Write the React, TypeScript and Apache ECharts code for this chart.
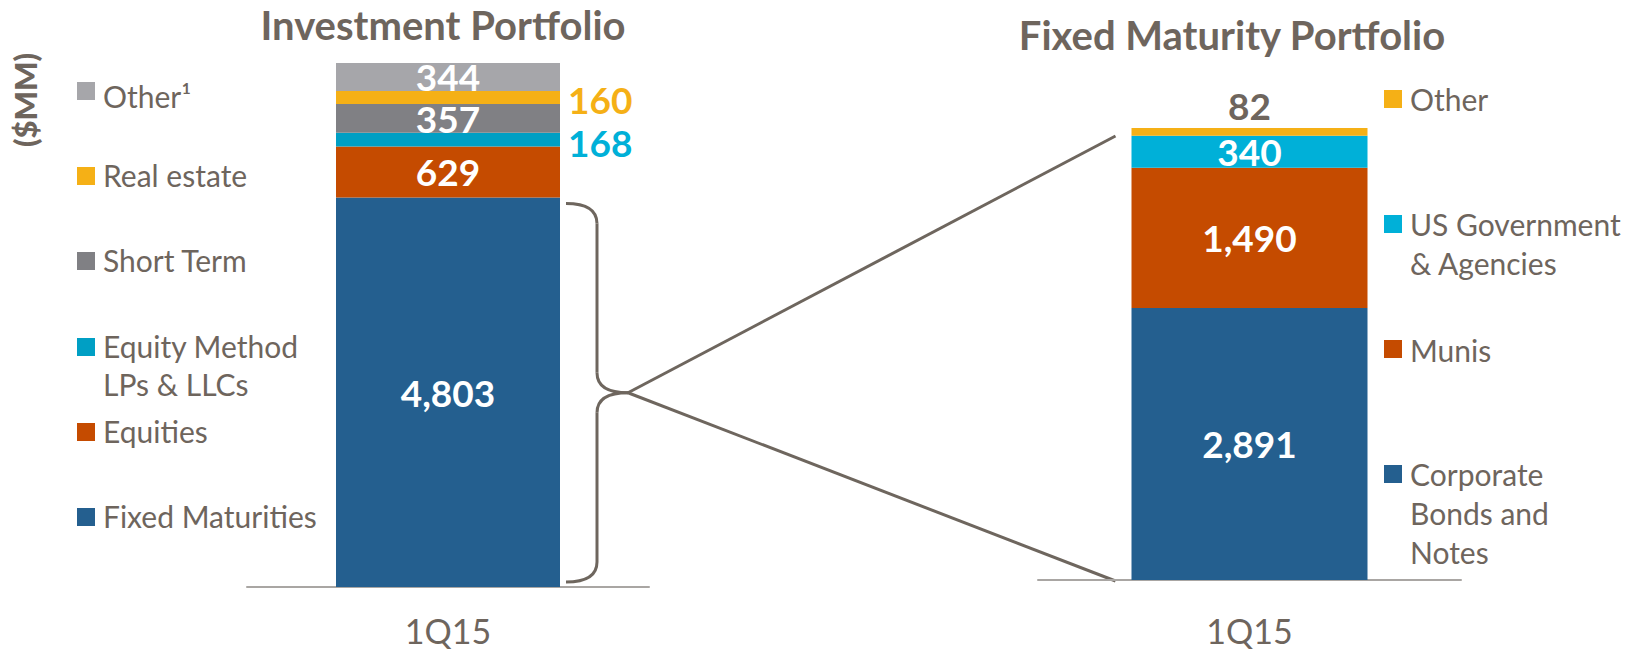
import React, { useEffect, useRef } from 'react';
import * as echarts from 'echarts';

// ---------- data ----------
const categories = ['1Q15'];

const investNames = ['Fixed Maturities', 'Equities', 'Equity Method LPs & LLCs', 'Short Term', 'Real estate', 'Other¹'];
const investLegendLabels = ['Fixed Maturities', 'Equities', 'Equity Method\nLPs & LLCs', 'Short Term', 'Real estate', 'Other¹'];
const investValues = [4803, 629, 168, 357, 160, 344];

const fixedNames = ['Corporate Bonds and Notes', 'Munis', 'US Government & Agencies', 'Other'];
const fixedLegendLabels = ['Corporate\nBonds and\nNotes', 'Munis', 'US Government\n& Agencies', 'Other'];
const fixedValues = [2891, 1490, 340, 82];

// ---------- styles ----------
const investColors = ['#245F8F', '#C54B00', '#009FC4', '#808084', '#F5B016', '#A6A6AA'];
const investLabelPos = ['inside', 'inside', 'right', 'inside', 'right', 'inside'];
const investLabelColor = ['#FFFFFF', '#FFFFFF', '#00B0D8', '#FFFFFF', '#F5B016', '#FFFFFF'];
const investLabelOffset = [[0, 0], [0, 0], [0, 3], [0, 0], [0, 2], [0, 0]];

const fixedColors = ['#245F8F', '#C54B00', '#00B0D8', '#F5B016'];
const fixedLabelPos = ['inside', 'inside', 'inside', 'top'];
const fixedLabelColor = ['#FFFFFF', '#FFFFFF', '#FFFFFF', '#6E655D'];

const TEXT = '#6E655D';
const LINE = '#6E665E';
const FONT = 'Lato, "Open Sans", sans-serif';

// legend layout (index follows the data arrays, bottom to top)
const investLegendSquareY = [517, 432, 347, 261, 176, 91];
const investLegendTextY = [516, 431, 346, 260, 175, 96];
const fixedLegendSquareY = [474, 349, 224, 99];
const fixedLegendTextY = [474, 350, 224, 99];

const fmt = (v: number) => v.toLocaleString('en-US');

export default function App() {
  const ref = useRef<HTMLDivElement>(null);

  useEffect(() => {
    if (!ref.current) return;
    const chart = echarts.init(ref.current, null, { renderer: 'svg' });
    const investTotal = investValues.reduce((a, b) => a + b, 0);
    const fixedTotal = fixedValues.reduce((a, b) => a + b, 0);

    const series: any[] = [];
    investValues.forEach((v, i) => {
      series.push({
        type: 'bar',
        name: investNames[i],
        stack: 'invest',
        xAxisIndex: 0,
        yAxisIndex: 0,
        barWidth: 224,
        data: [v],
        itemStyle: { color: investColors[i] },
        label: {
          show: true,
          position: investLabelPos[i],
          distance: 8,
          offset: investLabelOffset[i],
          color: investLabelColor[i],
          fontFamily: FONT,
          fontWeight: 'bold',
          fontSize: 37,
          lineHeight: 37,
          formatter: () => fmt(v),
        },
      });
    });
    fixedValues.forEach((v, i) => {
      series.push({
        type: 'bar',
        name: fixedNames[i],
        stack: 'fixed',
        xAxisIndex: 1,
        yAxisIndex: 1,
        barWidth: 236,
        data: [v],
        itemStyle: { color: fixedColors[i] },
        label: {
          show: true,
          position: fixedLabelPos[i],
          distance: 4,
          color: fixedLabelColor[i],
          fontFamily: FONT,
          fontWeight: 'bold',
          fontSize: 37,
          lineHeight: 37,
          formatter: () => fmt(v),
        },
      });
    });

    const axisCommon = {
      type: 'category',
      data: categories,
      axisTick: { show: false },
      axisLine: { show: true, lineStyle: { color: '#A9A6A3', width: 2 } },
    };

    chart.setOption({
      animation: false,
      grid: [
        { left: 247, right: 978, top: 63, bottom: 65 },
        { left: 1038, right: 166, top: 128, bottom: 72 },
      ],
      xAxis: [
        { ...axisCommon, gridIndex: 0, axisLabel: { color: TEXT, fontFamily: FONT, fontSize: 34, lineHeight: 28, margin: 29 } },
        { ...axisCommon, gridIndex: 1, axisLabel: { color: TEXT, fontFamily: FONT, fontSize: 34, lineHeight: 28, margin: 36 } },
      ],
      yAxis: [
        { type: 'value', gridIndex: 0, min: 0, max: investTotal, show: false, splitLine: { show: false } },
        { type: 'value', gridIndex: 1, min: 0, max: fixedTotal, show: false, splitLine: { show: false } },
      ],
      series,
    });

    // positions derived from the chart's own scales
    const fmTop = chart.convertToPixel({ gridIndex: 0 }, [0, investValues[0]]) as number[];
    const base0 = chart.convertToPixel({ gridIndex: 0 }, [0, 0]) as number[];
    const fxTop = chart.convertToPixel({ gridIndex: 1 }, [0, fixedTotal]) as number[];
    const base1 = chart.convertToPixel({ gridIndex: 1 }, [0, 0]) as number[];

    const leftBarRight = base0[0] + 224 / 2;
    const rightBarLeft = base1[0] - 236 / 2;
    const bx0 = leftBarRight + 6;
    const bx1 = bx0 + 31;
    const tipX = bx1 + 31;
    const yTop = fmTop[1] + 6;
    const yBot = base0[1] - 5;
    const yMid = (yTop + yBot) / 2;
    const r = 20;
    const braceStyle = { stroke: LINE, lineWidth: 3, fill: 'none' };

    const g: any[] = [];
    // titles
    g.push({ type: 'text', x: 443, y: 25, style: { text: 'Investment Portfolio', fill: TEXT, font: `bold 40px ${FONT}`, textAlign: 'center', textVerticalAlign: 'middle' } });
    g.push({ type: 'text', x: 1232, y: 35, style: { text: 'Fixed Maturity Portfolio', fill: TEXT, font: `bold 40px ${FONT}`, textAlign: 'center', textVerticalAlign: 'middle' } });
    // unit
    g.push({ type: 'text', x: 25, y: 100, rotation: Math.PI / 2, style: { text: '($MM)', fill: TEXT, font: `900 31px ${FONT}`, textAlign: 'center', textVerticalAlign: 'middle' } });

    // legends
    investLegendLabels.forEach((t, i) => {
      g.push({ type: 'rect', shape: { x: 77, y: investLegendSquareY[i] - 9, width: 18, height: 18 }, style: { fill: investColors[i] } });
      g.push({ type: 'text', x: 103, y: investLegendTextY[i] - 19, style: { text: t, fill: TEXT, font: `30px ${FONT}`, lineHeight: 38, textAlign: 'left', textVerticalAlign: 'top' } });
    });
    fixedLegendLabels.forEach((t, i) => {
      g.push({ type: 'rect', shape: { x: 1384, y: fixedLegendSquareY[i] - 9, width: 18, height: 18 }, style: { fill: fixedColors[i] } });
      g.push({ type: 'text', x: 1410, y: fixedLegendTextY[i] - 19.5, style: { text: t, fill: TEXT, font: `30px ${FONT}`, lineHeight: 39, textAlign: 'left', textVerticalAlign: 'top' } });
    });

    // brace
    g.push({ type: 'bezierCurve', shape: { x1: bx0, y1: yTop, cpx1: bx1, cpy1: yTop, x2: bx1, y2: yTop + r }, style: braceStyle });
    g.push({ type: 'line', shape: { x1: bx1, y1: yTop + r, x2: bx1, y2: yMid - r }, style: braceStyle });
    g.push({ type: 'bezierCurve', shape: { x1: bx1, y1: yMid - r, cpx1: bx1, cpy1: yMid, x2: tipX, y2: yMid }, style: braceStyle });
    g.push({ type: 'bezierCurve', shape: { x1: tipX, y1: yMid, cpx1: bx1, cpy1: yMid, x2: bx1, y2: yMid + r }, style: braceStyle });
    g.push({ type: 'line', shape: { x1: bx1, y1: yMid + r, x2: bx1, y2: yBot - r }, style: braceStyle });
    g.push({ type: 'bezierCurve', shape: { x1: bx1, y1: yBot - r, cpx1: bx1, cpy1: yBot, x2: bx0, y2: yBot }, style: braceStyle });

    // connectors
    g.push({ type: 'line', shape: { x1: tipX, y1: yMid, x2: rightBarLeft - 16, y2: fxTop[1] + 8 }, style: { stroke: LINE, lineWidth: 3 } });
    g.push({ type: 'line', shape: { x1: tipX, y1: yMid, x2: rightBarLeft - 16, y2: base1[1] + 1 }, style: { stroke: LINE, lineWidth: 3 } });

    chart.setOption({ graphic: g });

    return () => chart.dispose();
  }, []);

  return (
    <div
      ref={ref}
      style={{ position: 'fixed', left: 0, top: 0, width: 1627, height: 652, background: '#FFFFFF' }}
    />
  );
}
